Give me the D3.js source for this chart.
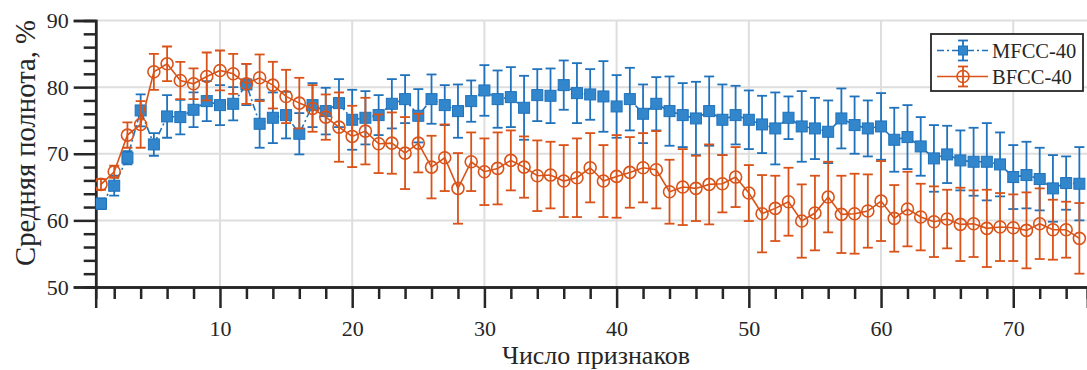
<!DOCTYPE html>
<html><head><meta charset="utf-8">
<script src="https://cdn.jsdelivr.net/npm/d3@7/dist/d3.min.js"></script>
<style>
html,body{margin:0;padding:0;background:#fff;}
svg{display:block;font-family:"Liberation Serif","Times New Roman",serif;}
</style></head>
<body><svg id="chart" width="1087" height="370"></svg>
<script>
const features = d3.range(1, 76);
const mfcc = [62.5,65.2,69.4,76.5,71.4,75.6,75.5,76.6,77.9,77.3,
  77.5,80.4,74.5,75.4,75.8,73.0,77.3,76.4,77.6,75.1,
  75.4,75.8,77.5,78.2,75.7,78.2,77.3,76.4,77.9,79.5,
  78.2,78.5,76.9,78.8,78.7,80.3,79.1,78.9,78.6,77.1,
  78.2,76.0,77.5,76.4,75.8,75.3,76.4,75.1,75.8,75.1,
  74.4,73.8,75.4,74.1,73.8,73.3,75.3,74.3,73.8,74.1,
  72.1,72.5,71.1,69.3,69.9,69.0,68.8,68.8,68.4,66.5,
  66.8,66.2,64.8,65.6,65.5];
const mfccErr = [0.8,1.5,1.0,2.4,1.7,3.2,2.6,2.6,3.0,3.0,
  2.5,3.1,3.6,3.8,3.5,3.1,3.3,3.5,3.6,4.5,
  4.0,3.0,3.7,3.6,4.0,3.7,3.0,4.0,3.1,3.8,
  4.3,4.5,4.8,3.9,4.1,3.7,4.5,3.8,5.3,4.7,
  4.7,4.4,4.0,5.2,4.8,5.5,5.2,5.3,4.4,4.4,
  4.3,5.4,3.2,5.3,4.6,4.7,4.5,4.3,4.2,5.0,
  4.8,4.8,4.4,5.0,4.3,4.5,5.1,5.8,4.8,4.8,
  5.0,4.7,5.0,4.0,5.5];
const bfcc = [65.4,67.3,72.8,74.4,82.3,83.5,81.0,80.5,81.6,82.5,
  82.0,80.5,81.4,80.3,78.6,77.6,76.8,75.5,74.0,72.6,
  73.4,71.5,71.6,70.1,71.6,68.0,69.4,64.8,68.8,67.3,
  67.8,69.0,68.0,66.7,66.8,65.9,66.4,67.9,65.9,66.6,
  67.2,67.9,67.6,64.3,65.0,64.8,65.4,65.5,66.5,64.1,
  61.0,61.8,62.8,59.9,61.1,63.5,60.9,61.0,61.4,62.9,
  60.3,61.7,60.5,59.8,60.2,59.4,59.5,58.8,59.0,58.9,
  58.5,59.5,58.6,58.6,57.3];
const bfccErr = [0.8,0.9,1.9,3.5,2.7,2.6,2.8,2.3,3.6,3.0,
  3.0,3.0,3.5,3.5,4.0,3.8,3.5,3.4,5.2,4.6,
  5.0,4.4,4.6,5.4,4.4,4.7,5.0,5.3,4.4,5.0,
  5.4,4.5,4.6,5.3,5.0,5.4,5.9,5.2,5.4,6.2,
  5.3,5.2,5.8,4.8,5.7,4.9,6.0,4.3,4.5,4.2,
  5.8,4.9,5.1,5.5,5.6,5.3,5.8,6.0,5.5,6.0,
  5.0,5.6,5.0,5.3,4.4,5.5,5.0,5.8,5.1,5.0,
  5.7,5.3,4.5,4.2,5.3];
const xMajorTicks = [10,20,30,40,50,60,70];
const yMajorTicks = [50,60,70,80,90];
const seriesNames = ["MFCC-40","BFCC-40"];
const xTitle = "Число признаков";
const yTitle = "Средняя полнота, %";

const svg = d3.select("#chart");
const L = 95.7, R = 1087.3, T = 20.5, B = 287;
const x = d3.scaleLinear().domain([0.6, 75.6]).range([L, R]);
const y = d3.scaleLinear().domain([50, 90]).range([B, T]);
const axisColor = "#262626";
const blue = "#1f72bb", blueFill = "#3186cc", orange = "#d95319";

svg.append("defs").append("clipPath").attr("id","clip")
  .append("rect").attr("x", L).attr("y", 0).attr("width", R - L + 10).attr("height", B + 10);

// grid
const grid = svg.append("g").attr("stroke", "#dedede").attr("stroke-width", 2);
grid.selectAll(".gx").data(xMajorTicks).join("line")
  .attr("x1", d => x(d)).attr("x2", d => x(d)).attr("y1", T).attr("y2", B);
grid.selectAll(".gy").data(yMajorTicks.filter(d => d > 50)).join("line")
  .attr("x1", L).attr("x2", R).attr("y1", d => y(d)).attr("y2", d => y(d));

// axes
const xMinor = d3.range(2, 76, 2).filter(d => d % 10 !== 0);
const yMinor = d3.range(52, 90, 2).filter(d => d % 10 !== 0);
const gx = svg.append("g").attr("transform", `translate(0,${B})`);
gx.call(d3.axisBottom(x).tickValues(xMinor).tickSize(12).tickFormat(""));
gx.call(g => g.append("g").call(d3.axisBottom(x).tickValues(xMajorTicks).tickSize(21).tickPadding(12).tickFormat(d3.format("d"))));
const gy = svg.append("g").attr("transform", `translate(${L},0)`);
gy.call(d3.axisLeft(y).tickValues(yMinor).tickSize(12).tickFormat(""));
gy.call(g => g.append("g").call(d3.axisLeft(y).tickValues(yMajorTicks).tickSize(22).tickPadding(5).tickFormat(d3.format("d"))));
svg.selectAll(".domain").attr("stroke", axisColor).attr("stroke-width", 2.5);
svg.selectAll(".tick line").attr("stroke", axisColor).attr("stroke-width", 2.5);
svg.selectAll(".tick text").attr("fill", axisColor).style("font-size", "22px")
  .style("font-family", '"Liberation Serif","Times New Roman",serif');
gx.selectAll(".tick text").attr("dy", "0.71em");

// titles
function fitText(sel, target) {
  const len = sel.node().getComputedTextLength();
  const fs = parseFloat(sel.style("font-size"));
  sel.style("font-size", (fs * target / len) + "px");
}
const xt = svg.append("text").attr("x", 596).attr("y", 364).attr("text-anchor", "middle")
  .attr("fill", axisColor).style("font-size", "22px").text(xTitle);
fitText(xt, 188);
const yt = svg.append("text").attr("transform", "translate(35,143) rotate(-90)")
  .attr("text-anchor", "middle").attr("fill", axisColor).style("font-size", "22px").text(yTitle);
fitText(yt, 246);

// data
const plot = svg.append("g").attr("clip-path", "url(#clip)");
const mData = features.map((f, i) => ({x: f, y: mfcc[i], e: mfccErr[i]}));
const bData = features.map((f, i) => ({x: f, y: bfcc[i], e: bfccErr[i]}));
const line = d3.line().x(d => x(d.x)).y(d => y(d.y));

function errorBars(g, data, color) {
  const eb = g.append("g").attr("stroke", color).attr("stroke-width", 1.8).attr("fill", "none");
  eb.selectAll(".v").data(data).join("line")
    .attr("x1", d => x(d.x)).attr("x2", d => x(d.x))
    .attr("y1", d => y(d.y - d.e)).attr("y2", d => y(d.y + d.e));
  eb.selectAll(".t").data(data).join("line")
    .attr("x1", d => x(d.x) - 5).attr("x2", d => x(d.x) + 5)
    .attr("y1", d => y(d.y + d.e)).attr("y2", d => y(d.y + d.e));
  eb.selectAll(".b").data(data).join("line")
    .attr("x1", d => x(d.x) - 5).attr("x2", d => x(d.x) + 5)
    .attr("y1", d => y(d.y - d.e)).attr("y2", d => y(d.y - d.e));
}

// MFCC (blue)
errorBars(plot, mData, blue);
plot.append("path").datum(mData).attr("d", line).attr("fill", "none")
  .attr("stroke", blue).attr("stroke-width", 1.6).attr("stroke-dasharray", "7,3,2,3");
plot.append("g").selectAll("rect").data(mData).join("rect")
  .attr("x", d => x(d.x) - 5.5).attr("y", d => y(d.y) - 5.5)
  .attr("width", 11).attr("height", 11)
  .attr("fill", blueFill).attr("stroke", blue).attr("stroke-width", 1);

// BFCC (orange)
errorBars(plot, bData, orange);
plot.append("path").datum(bData).attr("d", line).attr("fill", "none")
  .attr("stroke", orange).attr("stroke-width", 1.6);
plot.append("g").selectAll("circle").data(bData).join("circle")
  .attr("cx", d => x(d.x)).attr("cy", d => y(d.y)).attr("r", 6)
  .attr("fill", "none").attr("stroke", orange).attr("stroke-width", 1.6);

// legend
const lg = svg.append("g");
lg.append("rect").attr("x", 931).attr("y", 34).attr("width", 152).attr("height", 57)
  .attr("fill", "#fff").attr("stroke", axisColor).attr("stroke-width", 1.8);
const rows = [
  {name: seriesNames[0], color: blue, dash: "7,3,2,3", marker: "square", cy: 50.5},
  {name: seriesNames[1], color: orange, dash: null, marker: "circle", cy: 76.5}
];
rows.forEach(r => {
  const g = lg.append("g");
  g.append("line").attr("x1", 937).attr("x2", 988).attr("y1", r.cy).attr("y2", r.cy)
    .attr("stroke", r.color).attr("stroke-width", 1.6).attr("stroke-dasharray", r.dash);
  g.append("line").attr("x1", 963).attr("x2", 963).attr("y1", r.cy - 10).attr("y2", r.cy + 10)
    .attr("stroke", r.color).attr("stroke-width", 1.8);
  [r.cy - 10, r.cy + 10].forEach(cy => g.append("line").attr("x1", 958).attr("x2", 968)
    .attr("y1", cy).attr("y2", cy).attr("stroke", r.color).attr("stroke-width", 1.8));
  if (r.marker === "square") {
    g.append("rect").attr("x", 958.5).attr("y", r.cy - 4.5).attr("width", 9).attr("height", 9)
      .attr("fill", blueFill).attr("stroke", blue);
  } else {
    g.append("circle").attr("cx", 963).attr("cy", r.cy).attr("r", 6)
      .attr("fill", "none").attr("stroke", r.color).attr("stroke-width", 1.6);
  }
  g.append("text").attr("x", 992).attr("y", r.cy + 7).attr("fill", axisColor)
    .style("font-size", "20.5px").text(r.name);
});
</script>
</body></html>
